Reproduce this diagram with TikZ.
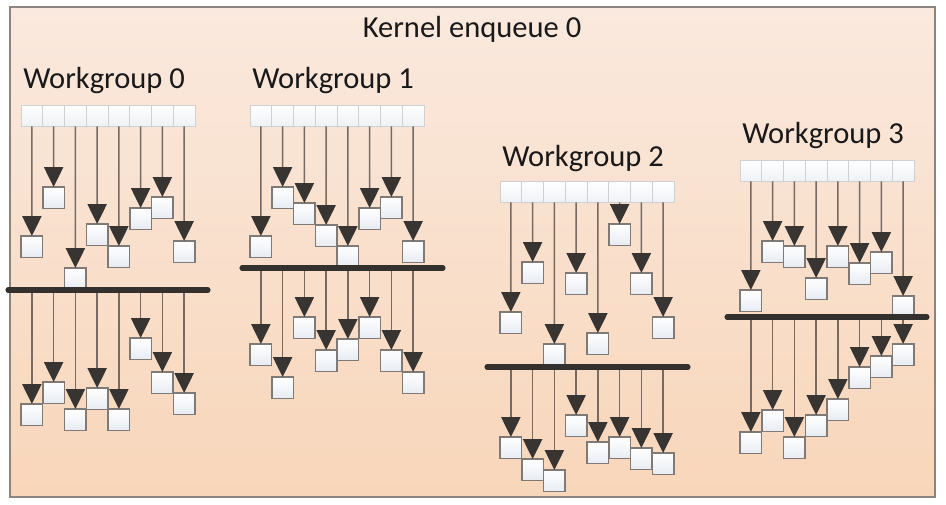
\documentclass[tikz,border=0pt]{standalone}
\usepackage{fontspec}
\setmainfont{Carlito}
\usetikzlibrary{arrows.meta}
\definecolor{bgtop}{RGB}{250,233,222}
\definecolor{bgbot}{RGB}{248,214,186}
\definecolor{framec}{RGB}{140,132,128}
\definecolor{linec}{RGB}{118,106,98}
\definecolor{arrowc}{RGB}{55,52,50}
\definecolor{boxc}{RGB}{128,122,118}
\definecolor{boxbot}{RGB}{231,236,242}
\definecolor{cellc}{RGB}{208,208,210}
\definecolor{cellbot}{RGB}{238,241,245}
\definecolor{barc}{RGB}{52,48,46}
\definecolor{textc}{RGB}{25,25,25}

\newcommand{\workgroup}[8]{%
  % #1 name, #2 header left x, #3 header top y, #4 bar y,
  % #5 bar left x, #6 bar right x, #7 upper box tops, #8 lower box tops
  \foreach \i in {0,...,7} {
    \node[cell] (#1h\i) at ({#2+21.75*\i},#3) {};
  }
  \foreach \t [count=\i from 0] in {#7} {
    \node[box] (#1u\i) at ({#2+10.875+21.75*\i},\t) {};
  }
  \foreach \t [count=\i from 0] in {#8} {
    \coordinate (#1c\i) at ({#2+10.875+21.75*\i},#4);
    \node[box] (#1l\i) at ({#2+10.875+21.75*\i},\t) {};
  }
  \foreach \i in {0,...,7} {
    \draw[conn] (#1h\i.south) -- (#1u\i.north);
    \draw[conn] (#1c\i) -- (#1l\i.north);
  }
  \coordinate (#1bl) at (#5,#4);
  \coordinate (#1br) at (#6,#4);
  \draw[bar] (#1bl) -- (#1br);
}

\begin{document}
\begin{tikzpicture}[x=0.75pt,y=-0.75pt,
  cell/.style={draw=cellc,line width=0.7pt,top color=white,bottom color=cellbot,
    minimum width=16.31pt,minimum height=16.1pt,inner sep=0pt,outer sep=0pt,anchor=north west},
  box/.style={draw=boxc,line width=1.1pt,top color=white,bottom color=boxbot,
    minimum width=16.2pt,minimum height=16.2pt,inner sep=0pt,outer sep=0pt,anchor=north},
  conn/.style={draw=linec,line width=1pt,-{Triangle[width=14.5pt,length=15pt,color=arrowc]}},
  bar/.style={draw=barc,line width=3.8pt,line cap=round},
  label/.style={font=\fontsize{22.9}{27}\selectfont,text=textc,inner sep=0pt,anchor=base west}]

\useasboundingbox (0,0) rectangle (946,504);
\path[top color=bgtop,bottom color=bgbot,draw=framec,line width=0.9pt] (10,7) rectangle (935,497);

\node[label,anchor=base] (title) at (472,37) {Kernel enqueue 0};
\node[label] (lab0) at (23,88) {Workgroup 0};
\node[label] (lab1) at (252,88) {Workgroup 1};
\node[label] (lab2) at (502,166) {Workgroup 2};
\node[label] (lab3) at (742,143) {Workgroup 3};

\workgroup{a}{21}{105}{290}{8}{208}{236,187,268,224,246,208,197,241}{404,382,409,388,409,338,372,393}
\workgroup{b}{250}{105}{268}{242}{443}{236,187,203,225,246,208,197,241}{344,377,317,350,339,317,350,372}
\workgroup{c}{500}{181}{367}{487}{688}{312,262,344,273,333,224,273,317}{437,459,470,415,442,437,448,453}
\workgroup{d}{740}{160}{317}{727}{927}{290,241,246,278,246,263,252,296}{432,410,437,415,399,367,356,344}
\end{tikzpicture}
\end{document}
